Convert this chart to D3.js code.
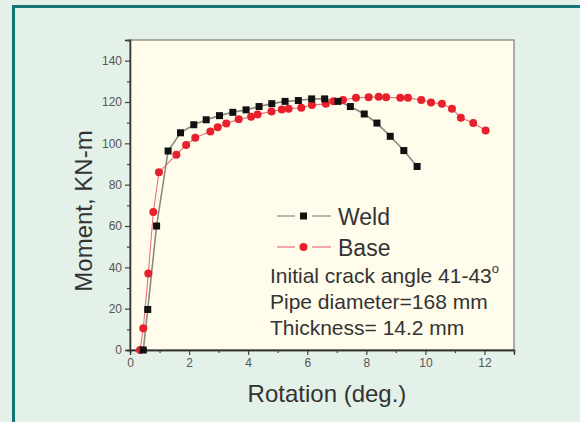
<!DOCTYPE html>
<html>
<head>
<meta charset="utf-8">
<script src="https://cdn.jsdelivr.net/npm/d3@7"></script>
<style>
  html, body { margin: 0; padding: 0; background: #e3f1e8; }
  svg { display: block; font-family: Arial, "Liberation Sans", sans-serif; }
</style>
</head>
<body>
<svg id="chart" width="580" height="422"></svg>
<script>
// Moment–rotation curves for the cracked pipe tests
const weldRotation = [0.45, 0.6, 0.9, 1.29, 1.71, 2.16, 2.58, 3.03, 3.48, 3.93, 4.37, 4.8, 5.25, 5.7, 6.15, 6.59, 7.04, 7.46, 7.93, 8.36, 8.81, 9.27, 9.72];
const weldMoment   = [0, 19.6, 60, 96.3, 105.1, 109, 111.4, 113.4, 115, 116.2, 117.8, 119.2, 120.3, 120.7, 121.5, 121.5, 120.3, 117.8, 114.2, 109.8, 103.4, 96.5, 88.8];

const baseRotation = [0.34, 0.45, 0.62, 0.79, 0.98, 1.57, 1.9, 2.21, 2.72, 2.97, 3.26, 3.68, 4.1, 4.32, 4.79, 5.14, 5.37, 5.8, 6.16, 6.63, 6.89, 7.21, 7.65, 8.08, 8.42, 8.67, 9.15, 9.41, 9.86, 10.19, 10.56, 10.9, 11.2, 11.62, 12.04];
const baseMoment   = [0, 10.5, 37, 66.8, 86, 94.5, 99.2, 102.7, 105.7, 107.8, 109.6, 111.6, 112.9, 114, 115.4, 116.4, 116.7, 117.2, 118.5, 119.1, 120.4, 121, 122, 122.3, 122.6, 122.3, 122, 122, 121, 119.8, 119.1, 116.7, 112.4, 109.8, 106.2];

const xTicks = [0, 2, 4, 6, 8, 10, 12];
const yTicks = [0, 20, 40, 60, 80, 100, 120, 140];
const seriesNames = ["Weld", "Base"];
const noteLines = ["Initial crack angle 41-43", "Pipe diameter=168 mm", "Thickness= 14.2 mm"];

const svg = d3.select("#chart");

// page frame
svg.append("rect").attr("x", 0).attr("y", 0).attr("width", 580).attr("height", 422).attr("fill", "#e3f1e8");
svg.append("rect").attr("x", 13.5).attr("y", 6.5).attr("width", 600).attr("height", 450)
  .attr("fill", "none").attr("stroke", "#127676").attr("stroke-width", 3);

const plot = { left: 130, top: 40, right: 514, bottom: 350 };
const x = d3.scaleLinear().domain([0, 13]).range([plot.left, plot.right]);
const y = d3.scaleLinear().domain([0, 150]).range([plot.bottom, plot.top]);

svg.append("rect")
  .attr("x", plot.left).attr("y", plot.top)
  .attr("width", plot.right - plot.left).attr("height", plot.bottom - plot.top)
  .attr("fill", "#fffcec").attr("stroke", "#7a7a7a").attr("stroke-width", 1.2);

// axes with minor ticks
const tickColor = "#444";
const xMinor = d3.range(0, 13.01, 1).filter(v => !xTicks.includes(v));
const yMinor = d3.range(0, 150.01, 10).filter(v => !yTicks.includes(v));

const gx = svg.append("g").attr("transform", `translate(0,${plot.bottom})`)
  .call(d3.axisBottom(x).tickValues(xTicks).tickSize(5).tickPadding(3).tickFormat(d3.format("d")));
const gxm = svg.append("g").attr("transform", `translate(0,${plot.bottom})`)
  .call(d3.axisBottom(x).tickValues(xMinor).tickSize(3).tickFormat(""));
const gy = svg.append("g").attr("transform", `translate(${plot.left},0)`)
  .call(d3.axisLeft(y).tickValues(yTicks).tickSize(5).tickPadding(3).tickFormat(d3.format("d")));
const gym = svg.append("g").attr("transform", `translate(${plot.left},0)`)
  .call(d3.axisLeft(y).tickValues(yMinor).tickSize(3).tickFormat(""));

[gx, gxm, gy, gym].forEach(g => {
  g.select(".domain").attr("stroke", "#333").attr("stroke-width", 1.3);
  g.selectAll(".tick line").attr("stroke", tickColor).attr("stroke-width", 1.2);
  g.selectAll(".tick text").attr("fill", "#555").attr("font-size", 12).attr("font-family", "Arial, 'Liberation Sans', sans-serif");
});

// axis titles
svg.append("text").attr("x", 327).attr("y", 402).attr("text-anchor", "middle")
  .attr("font-size", 24).attr("fill", "#333").text("Rotation (deg.)");
svg.append("text").attr("transform", "translate(92,211) rotate(-90)").attr("text-anchor", "middle")
  .attr("font-size", 24).attr("fill", "#333").text("Moment, KN-m");

// series
const weld = weldRotation.map((v, i) => [v, weldMoment[i]]);
const base = baseRotation.map((v, i) => [v, baseMoment[i]]);
const line = d3.line().x(d => x(d[0])).y(d => y(d[1]));

svg.append("path").datum(base).attr("d", line)
  .attr("fill", "none").attr("stroke", "#e8707a").attr("stroke-width", 1.1);
svg.append("path").datum(weld).attr("d", line)
  .attr("fill", "none").attr("stroke", "#8a8a80").attr("stroke-width", 1.6);

svg.append("g").selectAll("circle").data(base).join("circle")
  .attr("cx", d => x(d[0])).attr("cy", d => y(d[1])).attr("r", 4)
  .attr("fill", "#e8202e");
svg.append("g").selectAll("rect").data(weld).join("rect")
  .attr("x", d => x(d[0]) - 3.5).attr("y", d => y(d[1]) - 3.5)
  .attr("width", 7).attr("height", 7).attr("fill", "#111");

// legend: line segment, gap, marker, gap, line segment
const legend = svg.append("g");
const legendY = [216, 247];
const legendColors = ["#8a8a80", "#e8707a"];
legendY.forEach((ly, i) => {
  [[277, 295], [312, 331]].forEach(([a, b]) => {
    legend.append("line").attr("x1", a).attr("x2", b).attr("y1", ly).attr("y2", ly)
      .attr("stroke", legendColors[i]).attr("stroke-width", 1.2);
  });
});
legend.append("rect").attr("x", 303.5 - 3.5).attr("y", legendY[0] - 3.5).attr("width", 7).attr("height", 7).attr("fill", "#111");
legend.append("circle").attr("cx", 303.5).attr("cy", legendY[1]).attr("r", 4).attr("fill", "#e8202e");
seriesNames.forEach((name, i) => {
  legend.append("text").attr("x", 338).attr("y", legendY[i] + 9)
    .attr("font-size", 23).attr("fill", "#333").text(name);
});

// test notes
const notes = svg.append("g").attr("font-size", 21).attr("fill", "#333");
noteLines.forEach((t, i) => {
  const tx = notes.append("text").attr("x", 270).attr("y", 283 + i * 26).text(t);
  if (i === 0) tx.append("tspan").attr("font-size", 13).attr("dy", -10).text("o");
});
</script>
</body>
</html>
